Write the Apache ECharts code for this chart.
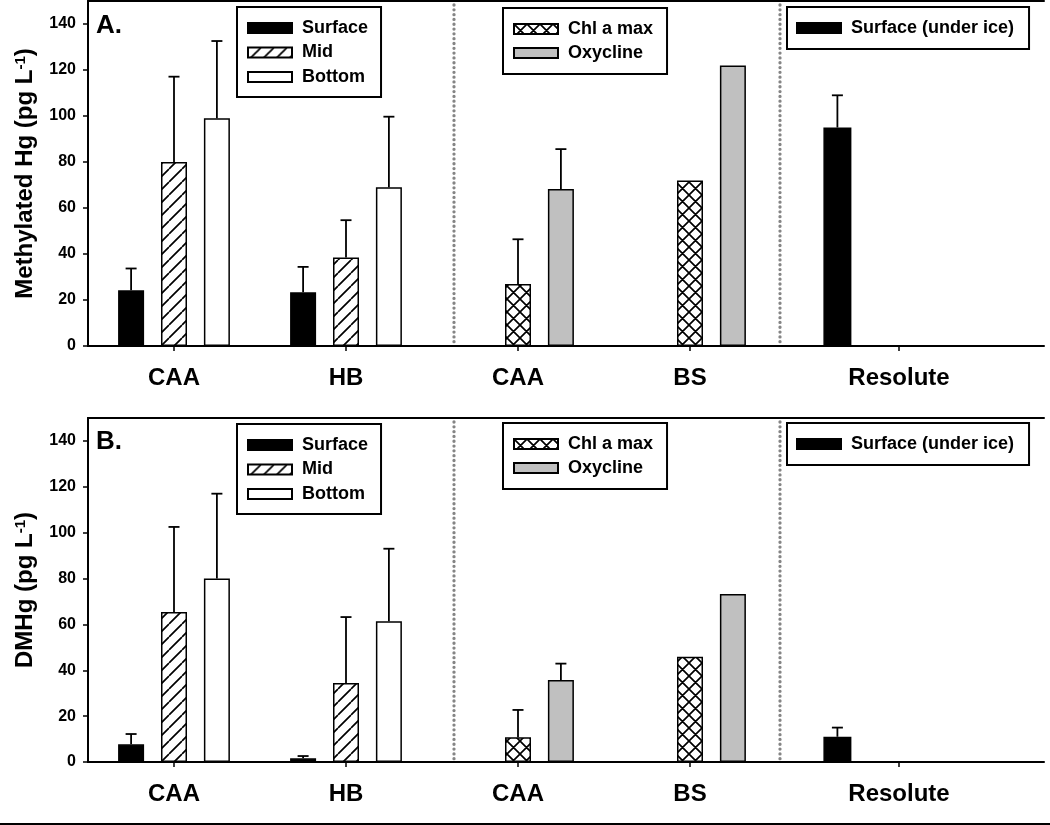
<!DOCTYPE html>
<html><head><meta charset="utf-8">
<script src="https://cdn.jsdelivr.net/npm/echarts@6/dist/echarts.min.js"></script>
<style>html,body{margin:0;padding:0;background:#fff}#c{width:1050px;height:825px}</style>
</head><body><div id="c"></div>
<script>
// ---------------- DATA ----------------
const groupsLeft  = ['CAA', 'HB'];
const groupsMid   = ['CAA', 'BS'];
const groupsRight = ['Resolute'];
const yTickValues = [0, 20, 40, 60, 80, 100, 120, 140];

// Panel A: Methylated Hg (pg L-1)  -- means and upper error (SD)
const A_surface = [24.2, 23.4];  const A_surfaceErr = [9.5, 11.0];
const A_mid     = [80.0, 38.5];  const A_midErr     = [37.1, 16.2];
const A_bottom  = [99.0, 69.0];  const A_bottomErr  = [33.6, 30.7];
const A_chl     = [27.0, 72.0];  const A_chlErr     = [19.4, null];
const A_oxy     = [68.3, 122.0]; const A_oxyErr     = [17.3, null];
const A_ice     = [95.0];        const A_iceErr     = [14.0];

// Panel B: DMHg (pg L-1)
const B_surface = [7.7, 1.6];    const B_surfaceErr = [4.5, 1.0];
const B_mid     = [65.4, 34.5];  const B_midErr     = [37.1, 28.7];
const B_bottom  = [80.0, 61.4];  const B_bottomErr  = [37.0, 31.6];
const B_chl     = [10.8, 45.9];  const B_chlErr     = [11.9, null];
const B_oxy     = [35.8, 73.3];  const B_oxyErr     = [7.1, null];
const B_ice     = [11.0];        const B_iceErr     = [4.0];

// ---------------- STYLE / LAYOUT ----------------
const FONT = '"Liberation Sans", Arial, sans-serif';
const PL = 88, PR = 1044;
const panels = [
  { top: 1, height: 345, label: 'A.', labelTop: 13, yName: 'Methylated Hg (pg L{sup|-1})',
    s: [A_surface, A_mid, A_bottom, A_chl, A_oxy, A_ice], e: [A_surfaceErr, A_midErr, A_bottomErr, A_chlErr, A_oxyErr, A_iceErr],
    legTop: [7, 8, 7] },
  { top: 418, height: 344, label: 'B.', labelTop: 429, yName: 'DMHg (pg L{sup|-1})',
    s: [B_surface, B_mid, B_bottom, B_chl, B_oxy, B_ice], e: [B_surfaceErr, B_midErr, B_bottomErr, B_chlErr, B_oxyErr, B_iceErr],
    legTop: [424, 423, 423] }
];
const subGrids = [
  { left: 88,  width: 344, cats: groupsLeft,  barW: 26, gap: 0.65 },
  { left: 432, width: 344, cats: groupsMid,   barW: 26, gap: 0.65 },
  { left: 780, width: 238, cats: groupsRight, barW: 28, gap: 1.2 }
];
const dividerX = [454, 780];

function pattern(cross) {
  const P = 13, c = document.createElement('canvas');
  c.width = P; c.height = P;
  const ctx = c.getContext('2d');
  ctx.fillStyle = '#fff'; ctx.fillRect(0, 0, P, P);
  ctx.strokeStyle = '#000'; ctx.lineWidth = 1.7;
  ctx.beginPath();
  for (const k of [-1, 0, 1]) { ctx.moveTo(k * P, P); ctx.lineTo(k * P + P, 0); }
  if (cross) for (const k of [-1, 0, 1]) { ctx.moveTo(k * P, 0); ctx.lineTo(k * P + P, P); }
  ctx.stroke();
  return { image: c, repeat: 'repeat' };
}
const hatchFill = pattern(false), crossFill = pattern(true);

const seriesDefs = [
  // [name, subGrid, slot, fill, dataIndex]
  ['Surface', 0, 0, '#000', 0],
  ['Mid', 0, 1, hatchFill, 1],
  ['Bottom', 0, 2, '#fff', 2],
  [null, 1, 0, null, null],
  ['Chl a max', 1, 1, crossFill, 3],
  ['Oxycline', 1, 2, '#c0c0c0', 4],
  ['Surface (under ice)', 2, 0, '#000', 5],
  [null, 2, 1, null, null],
  [null, 2, 2, null, null]
];

const grid = [], xAxis = [], yAxis = [], series = [], legend = [], title = [], graphic = [];

panels.forEach((p, pi) => {
  const xb = xAxis.length, yb = yAxis.length;
  grid.push({ left: PL, width: PR - PL, top: p.top, height: p.height, containLabel: false });
  const gMain = grid.length - 1;
  const frameAxis = (pos) => ({ type: 'value', gridIndex: gMain, position: pos, min: 0, max: 1,
    axisLine: { show: true, onZero: false, lineStyle: { color: '#000', width: 2 } },
    axisTick: { show: false }, axisLabel: { show: false }, splitLine: { show: false } });
  xAxis.push(frameAxis('bottom'));
  xAxis.push(frameAxis('top'));
  yAxis.push({
    type: 'value', gridIndex: gMain, position: 'left', min: 0, max: 150, interval: 20,
    axisLine: { show: true, lineStyle: { color: '#000', width: 2 } },
    axisTick: { show: true, inside: false, length: 5, lineStyle: { color: '#000', width: 1.5 }, customValues: yTickValues },
    axisLabel: { show: true, color: '#000', fontSize: 16, fontWeight: 'bold', fontFamily: FONT, margin: 12,
                 customValues: yTickValues },
    splitLine: { show: false },
    name: p.yName, nameLocation: 'middle', nameGap: 51,
    nameTextStyle: { color: '#000', fontSize: 24, fontWeight: 'bold', fontFamily: FONT, lineHeight: 24,
      rich: { sup: { fontSize: 15, fontWeight: 'bold', fontFamily: FONT, color: '#000', verticalAlign: 'top', lineHeight: 24 } } }
  });
  yAxis.push({ type: 'value', gridIndex: gMain, position: 'right', min: 0, max: 150,
    axisLine: { show: true, lineStyle: { color: '#000', width: 2 } },
    axisTick: { show: false }, axisLabel: { show: false }, splitLine: { show: false } });

  subGrids.forEach((sg) => {
    grid.push({ left: sg.left, width: sg.width, top: p.top, height: p.height });
    const gi = grid.length - 1;
    xAxis.push({ type: 'category', gridIndex: gi, data: sg.cats, position: 'bottom',
      axisLine: { show: false },
      axisTick: { show: true, alignWithLabel: true, length: 5, lineStyle: { color: '#000', width: 1.5 } },
      axisLabel: { show: true, color: '#000', fontSize: 24, fontWeight: 'bold', fontFamily: FONT, margin: 20 },
      splitLine: { show: false } });
    yAxis.push({ type: 'value', gridIndex: gi, min: 0, max: 150, show: false });
  });

  seriesDefs.forEach(([name, sgi, slot, fill, di]) => {
    const sg = subGrids[sgi];
    const xi = xb + 2 + sgi, yi = yb + 2 + sgi;
    const base = {
      type: 'bar', xAxisIndex: xi, yAxisIndex: yi, barWidth: sg.barW, barGap: (sg.gap * 100) + '%',
      animation: false
    };
    if (name === null) {
      series.push(Object.assign(base, { name: '_gap', data: sg.cats.map(() => null), silent: true }));
      return;
    }
    const vals = p.s[di], errs = p.e[di];
    series.push(Object.assign(base, {
      name: name, data: vals,
      itemStyle: { color: fill, borderColor: '#000', borderWidth: 1.5 }
    }));
    const step = sg.barW * (1 + sg.gap);
    const offset = (slot - 1) * step;
    series.push({
      type: 'custom', name: name + ' err', xAxisIndex: xi, yAxisIndex: yi, silent: true, animation: false, z: 3,
      data: vals.map((v, i) => [i, v, errs[i]]).filter(d => d[2] != null),
      encode: { x: 0, y: 1 },
      renderItem: function (params, api) {
        const i = api.value(0), m = api.value(1), e = api.value(2);
        const p0 = api.coord([i, m]), p1 = api.coord([i, m + e]);
        const x = p0[0] + offset;
        const st = { stroke: '#000', lineWidth: 1.8, fill: null };
        return { type: 'group', children: [
          { type: 'line', shape: { x1: x, y1: p0[1], x2: x, y2: p1[1] }, style: st },
          { type: 'line', shape: { x1: x - 5.5, y1: p1[1], x2: x + 5.5, y2: p1[1] }, style: st }
        ] };
      }
    });
  });

  const legBase = {
    orient: 'vertical', icon: 'rect', itemWidth: 44, itemHeight: 10, selectedMode: false,
    borderColor: '#000', borderWidth: 2, backgroundColor: '#fff',
    textStyle: { color: '#000', fontSize: 18, fontWeight: 'bold', fontFamily: FONT, lineHeight: 18, padding: [0, 0, 0, 5] }
  };
  legend.push(Object.assign({}, legBase, { data: ['Surface', 'Mid', 'Bottom'], left: 237, top: p.legTop[0],
    itemGap: 6.5, padding: [12, 13, 11, 10] }));
  legend.push(Object.assign({}, legBase, { data: ['Chl a max', 'Oxycline'], left: 503, top: p.legTop[1],
    itemGap: 6, padding: [12, 14, 12, 10] }));
  legend.push(Object.assign({}, legBase, { data: ['Surface (under ice)'], left: 787, top: p.legTop[2],
    itemGap: 6, padding: [12, 15, 12, 9] }));

  title.push({ text: p.label, left: 96, top: p.labelTop, padding: 0,
    textStyle: { color: '#000', fontSize: 26, fontWeight: 'bold', fontFamily: FONT } });

  dividerX.forEach(x => graphic.push({
    type: 'line', silent: true, z: 1,
    shape: { x1: x, y1: p.top + 4, x2: x, y2: p.top + p.height - 2 },
    style: { stroke: '#858585', lineWidth: 3.3, lineDash: [0.01, 4.8], lineCap: 'round' }
  }));
});
graphic.push({ type: 'line', silent: true, shape: { x1: 0, y1: 824, x2: 1050, y2: 824 }, style: { stroke: '#000', lineWidth: 2 } });

const chart = echarts.init(document.getElementById('c'), null, { renderer: 'canvas' });
chart.setOption({
  animation: false, backgroundColor: '#fff',
  grid, xAxis, yAxis, series, legend, title, graphic
});
</script></body></html>
